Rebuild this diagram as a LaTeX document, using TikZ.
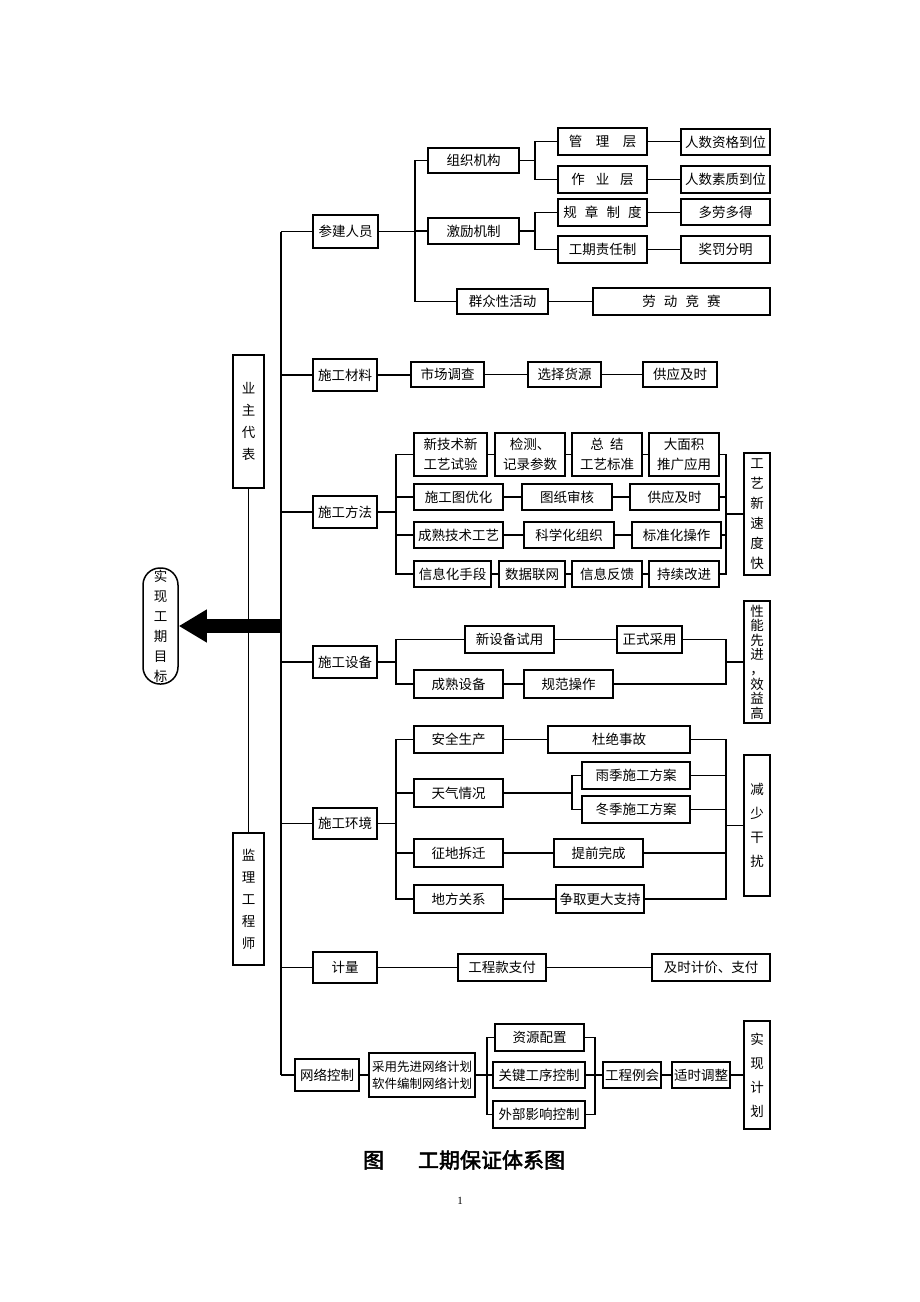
\documentclass[tikz,border=0pt]{standalone}
\usepackage{fontspec}
\setmainfont{Noto Sans CJK SC}
\newfontfamily\capfont[FakeBold=2.5]{Noto Sans CJK SC}
\newfontfamily\latfont{Liberation Serif}
\usetikzlibrary{arrows.meta}
\newcommand\fs{\fontsize{13.5}{16}\selectfont}
\newcommand\mybox[7][]{\node[bx,minimum width={#5pt-#3pt},minimum height={#6pt-#4pt},#1] (#2) at ({(#3+#5)/2},{(#4+#6)/2}) {#7};}
\tikzset{
  bx/.style={draw,line width=1.5pt,inner sep=0pt,align=center,font=\fs},
  ln/.style={line width=1.5pt},
  vt/.style={font={\fontsize{13.5}{#1}\selectfont}},
  two/.style={font={\fontsize{13.5}{20}\selectfont}}
}
\begin{document}
\begin{tikzpicture}[x=1pt,y=-1pt]
\useasboundingbox (0,0) rectangle (920,1302);
% level boxes
\mybox{cj}{313}{215}{378}{248}{参建人员}
\mybox{cl}{313}{359}{377}{391}{施工材料}
\mybox{ff}{313}{496}{377}{528}{施工方法}
\mybox{sb}{313}{646}{377}{678}{施工设备}
\mybox{hj}{313}{808}{377}{839}{施工环境}
\mybox{jl}{313}{952}{377}{983}{计量}
\mybox{wl}{295}{1059}{359}{1091}{网络控制}
% section 1
\mybox{zz}{428}{148}{519}{173}{组织机构}
\mybox{jj}{428}{218}{519}{244}{激励机制}
\mybox{qz}{457}{289}{548}{314}{群众性活动}
\mybox{gl}{558}{128}{647}{155}{管\hspace{1em}理\hspace{1em}层}
\mybox{zy}{558}{166}{647}{193}{作\hspace{0.8em}业\hspace{0.8em}层}
\mybox{gz}{558}{199}{647}{226}{规\hspace{0.6em}章\hspace{0.6em}制\hspace{0.6em}度}
\mybox{gq}{558}{236}{647}{263}{工期责任制}
\mybox{r1}{681}{129}{770}{155}{人数资格到位}
\mybox{r2}{681}{166}{770}{193}{人数素质到位}
\mybox{r3}{681}{199}{770}{225}{多劳多得}
\mybox{r4}{681}{236}{770}{263}{奖罚分明}
\mybox{ld}{593}{288}{770}{315}{劳\hspace{0.6em}动\hspace{0.6em}竞\hspace{0.6em}赛}
% materials
\mybox{m1}{411}{362}{484}{387}{市场调查}
\mybox{m2}{528}{362}{601}{387}{选择货源}
\mybox{m3}{643}{362}{717}{387}{供应及时}
% method
\mybox[two]{a1}{414}{433}{487}{476}{新技术新\\工艺试验}
\mybox[two]{a2}{495}{433}{565}{476}{检测、\\记录参数}
\mybox[two]{a3}{572}{433}{642}{476}{总\hspace{0.45em}结\\工艺标准}
\mybox[two]{a4}{649}{433}{719}{476}{大面积\\推广应用}
\mybox{b1}{414}{484}{503}{510}{施工图优化}
\mybox{b2}{522}{484}{612}{510}{图纸审核}
\mybox{b3}{630}{484}{719}{510}{供应及时}
\mybox{c1}{414}{522}{503}{548}{成熟技术工艺}
\mybox{c2}{524}{522}{614}{548}{科学化组织}
\mybox{c3}{632}{522}{721}{548}{标准化操作}
\mybox{d1}{414}{561}{491}{587}{信息化手段}
\mybox{d2}{499}{561}{565}{587}{数据联网}
\mybox{d3}{572}{561}{642}{587}{信息反馈}
\mybox{d4}{649}{561}{719}{587}{持续改进}
\mybox[vt=20]{g1}{744}{453}{770}{575}{工\\艺\\新\\速\\度\\快}
% equipment
\mybox{e1}{465}{626}{554}{653}{新设备试用}
\mybox{e2}{617}{626}{682}{653}{正式采用}
\mybox{e3}{414}{670}{503}{698}{成熟设备}
\mybox{e4}{524}{670}{613}{698}{规范操作}
\mybox[vt=14.6]{g2}{744}{601}{770}{723}{性\\能\\先\\进\\，\\效\\益\\高}
% environment
\mybox{h1}{414}{726}{503}{753}{安全生产}
\mybox{h2}{548}{726}{690}{753}{杜绝事故}
\mybox{h3}{414}{779}{503}{807}{天气情况}
\mybox{h4}{582}{762}{690}{789}{雨季施工方案}
\mybox{h5}{582}{796}{690}{823}{冬季施工方案}
\mybox{h6}{414}{839}{503}{867}{征地拆迁}
\mybox{h7}{554}{839}{643}{867}{提前完成}
\mybox{h8}{414}{885}{503}{913}{地方关系}
\mybox{h9}{556}{885}{644}{913}{争取更大支持}
\mybox[vt=24]{g3}{744}{755}{770}{896}{减\\少\\干\\扰}
% measure
\mybox{w1}{458}{954}{546}{981}{工程款支付}
\mybox{w2}{652}{954}{770}{981}{及时计价、支付}
% network
\mybox[font={\fontsize{12.5}{17}\selectfont}]{n1}{369}{1053}{475}{1097}{采用先进网络计划\\软件编制网络计划}
\mybox{n2}{495}{1024}{584}{1051}{资源配置}
\mybox{n3}{493}{1062}{585}{1088}{关键工序控制}
\mybox{n4}{493}{1101}{585}{1128}{外部影响控制}
\mybox{n5}{603}{1062}{661}{1088}{工程例会}
\mybox{n6}{672}{1062}{730}{1088}{适时调整}
\mybox[vt=24]{g4}{744}{1021}{770}{1129}{实\\现\\计\\划}
% left
\mybox[vt=22]{yz}{233}{355}{264}{488}{业\\主\\代\\表}
\mybox[vt=22]{jg}{233}{833}{264}{965}{监\\理\\工\\程\\师}
\mybox[vt=20,rounded corners=17pt]{goal}{143}{568}{178}{684}{实\\现\\工\\期\\目\\标}

% coordinates of vertical rails
\coordinate (sp) at (281,0);
\coordinate (v1) at (415,0);
\coordinate (v2) at (535,0);
\coordinate (v3) at (396,0);
\coordinate (v4) at (726,0);
\coordinate (v5) at (572,0);
\coordinate (v6) at (487,0);
\coordinate (v7) at (595,0);
\coordinate (ar) at (282,626);

% spine
\draw[ln] (cj.west -| sp) -- (wl.west -| sp);
\foreach \n in {cj,cl,ff,sb,hj,jl,wl} \draw[ln] (\n.west) -- (\n.west -| sp);

% section 1
\draw[ln] (cj.east) -- (cj.east -| v1);
\draw[ln] (zz.west) -- (zz.west -| v1) -- (qz.west -| v1) -- (qz.west);
\draw[ln] (jj.west) -- (jj.west -| v1);
\draw[ln] (zz.east) -- (zz.east -| v2);
\draw[ln] (gl.west) -- (gl.west -| v2) -- (zy.west -| v2) -- (zy.west);
\draw[ln] (jj.east) -- (jj.east -| v2);
\draw[ln] (gz.west) -- (gz.west -| v2) -- (gq.west -| v2) -- (gq.west);
\draw[ln] (gl.east) -- (gl.east -| r1.west);
\draw[ln] (zy.east) -- (zy.east -| r2.west);
\draw[ln] (gz.east) -- (gz.east -| r3.west);
\draw[ln] (gq.east) -- (gq.east -| r4.west);
\draw[ln] (qz.east) -- (qz.east -| ld.west);

% materials
\draw[ln] (cl.east) -- (cl.east -| m1.west);
\draw[ln] (m1.east) -- (m1.east -| m2.west);
\draw[ln] (m2.east) -- (m2.east -| m3.west);

% method
\draw[ln] (ff.east) -- (ff.east -| v3);
\draw[ln] (a1.west) -- (a1.west -| v3) -- (d1.west -| v3) -- (d1.west);
\draw[ln] (b1.west) -- (b1.west -| v3);
\draw[ln] (c1.west) -- (c1.west -| v3);
\draw[ln] (a1.east) -- (a1.east -| a2.west);
\draw[ln] (a2.east) -- (a2.east -| a3.west);
\draw[ln] (a3.east) -- (a3.east -| a4.west);
\draw[ln] (b1.east) -- (b1.east -| b2.west);
\draw[ln] (b2.east) -- (b2.east -| b3.west);
\draw[ln] (c1.east) -- (c1.east -| c2.west);
\draw[ln] (c2.east) -- (c2.east -| c3.west);
\draw[ln] (d1.east) -- (d1.east -| d2.west);
\draw[ln] (d2.east) -- (d2.east -| d3.west);
\draw[ln] (d3.east) -- (d3.east -| d4.west);
\draw[ln] (a4.east) -- (a4.east -| v4) -- (d4.east -| v4) -- (d4.east);
\draw[ln] (b3.east) -- (b3.east -| v4);
\draw[ln] (c3.east) -- (c3.east -| v4);
\draw[ln] (g1.west) -- (g1.west -| v4);

% equipment
\draw[ln] (sb.east) -- (sb.east -| v3);
\draw[ln] (e1.west) -- (e1.west -| v3) -- (e3.west -| v3) -- (e3.west);
\draw[ln] (e1.east) -- (e1.east -| e2.west);
\draw[ln] (e3.east) -- (e3.east -| e4.west);
\draw[ln] (e2.east) -- (e2.east -| v4) -- (e4.east -| v4) -- (e4.east);
\draw[ln] (g2.west) -- (g2.west -| v4);

% environment
\draw[ln] (hj.east) -- (hj.east -| v3);
\draw[ln] (h1.west) -- (h1.west -| v3) -- (h8.west -| v3) -- (h8.west);
\draw[ln] (h3.west) -- (h3.west -| v3);
\draw[ln] (h6.west) -- (h6.west -| v3);
\draw[ln] (h1.east) -- (h1.east -| h2.west);
\draw[ln] (h3.east) -- (h3.east -| v5);
\draw[ln] (h4.west) -- (h4.west -| v5) -- (h5.west -| v5) -- (h5.west);
\draw[ln] (h6.east) -- (h6.east -| h7.west);
\draw[ln] (h8.east) -- (h8.east -| h9.west);
\draw[ln] (h2.east) -- (h2.east -| v4) -- (h9.east -| v4) -- (h9.east);
\draw[ln] (h4.east) -- (h4.east -| v4);
\draw[ln] (h5.east) -- (h5.east -| v4);
\draw[ln] (h7.east) -- (h7.east -| v4);
\draw[ln] (g3.west) -- (g3.west -| v4);

% measure
\draw[ln] (jl.east) -- (jl.east -| w1.west);
\draw[ln] (w1.east) -- (w1.east -| w2.west);

% network
\draw[ln] (wl.east) -- (wl.east -| n1.west);
\draw[ln] (n1.east) -- (n1.east -| v6);
\draw[ln] (n2.west) -- (n2.west -| v6) -- (n4.west -| v6) -- (n4.west);
\draw[ln] (n3.west) -- (n3.west -| v6);
\draw[ln] (n2.east) -- (n2.east -| v7) -- (n4.east -| v7) -- (n4.east);
\draw[ln] (n3.east) -- (n3.east -| v7);
\draw[ln] (n5.west) -- (n5.west -| v7);
\draw[ln] (n5.east) -- (n5.east -| n6.west);
\draw[ln] (n6.east) -- (n6.east -| g4.west);

% left
\draw[line width=1.1pt] (yz.south) -- (jg.north);
\draw[line width=14pt,-{Triangle[length=28pt,width=31pt]}] (ar) -- (goal.east);

% caption
\node[font={\capfont\fontsize{21}{24}\selectfont}] (cap) at (464,1160) {图\hspace{34pt}工期保证体系图};
\node[font={\latfont\fontsize{11}{12}\selectfont}] (pg) at (460,1201) {1};
\end{tikzpicture}
\end{document}
